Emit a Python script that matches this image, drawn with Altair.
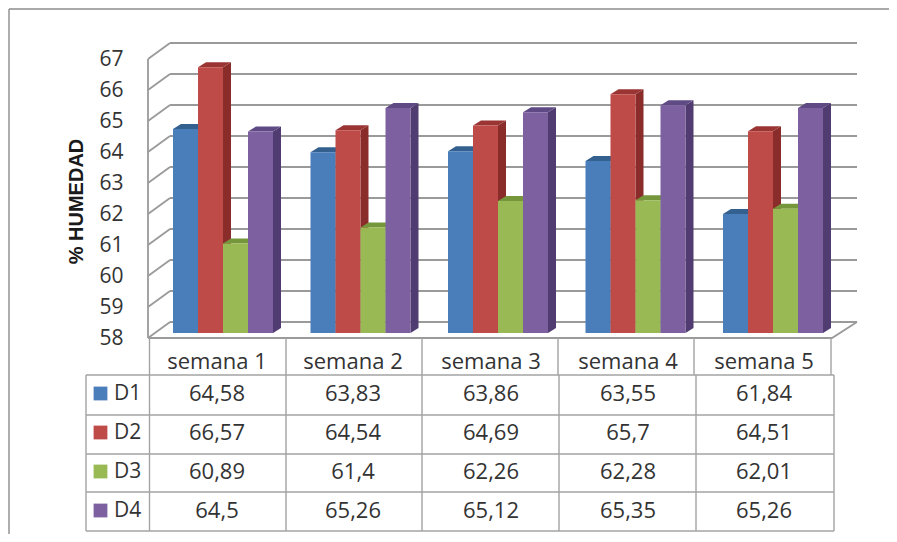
import altair as alt
import pandas as pd

# --- chart values ---
weeks = ["semana 1", "semana 2", "semana 3", "semana 4", "semana 5"]
series = ["D1", "D2", "D3", "D4"]
d1 = [64.58, 63.83, 63.86, 63.55, 61.84]
d2 = [66.57, 64.54, 64.69, 65.7, 64.51]
d3 = [60.89, 61.4, 62.26, 62.28, 62.01]
d4 = [64.5, 65.26, 65.12, 65.35, 65.26]
values = [d1, d2, d3, d4]
ticks = [58, 59, 60, 61, 62, 63, 64, 65, 66, 67]

front = ["#4a7ebb", "#be4b48", "#98b954", "#7d60a0"]
side = ["#2f5687", "#8a2c2a", "#6c8a35", "#503c70"]
top = ["#33608f", "#9a3533", "#76963c", "#5f4a85"]

# --- layout (page pixels) ---
W, H = 881, 526
PX_PER_UNIT = 31.0
FLOOR_Y = 338.0
BAR_Y = 333.0
BACK_Y = 322.0
LEFT, RIGHT, BACK_L, BACK_R = 148, 832, 170, 857
BAR_X0, GROUP_STEP, BAR_W = 173.0, 137.5, 25.0
BAR_DX, BAR_DY = 8.0, 5.0
GRID = "#9a9a9a"
TXT = "#333333"
FONT = "Open Sans"

header_edges = [149.5, 286, 422, 558, 694, 831]
row_edges = [86, 149.5, 286, 422, 559, 696, 834]
row_lines = [375, 415, 454, 492, 531]
row_centers = [394, 433, 472, 511]
col_centers = [217, 353, 491, 628, 764]
HEADER_TOP, HEADER_BOTTOM, HEADER_MID = 338, 375, 362

xs = alt.Scale(domain=[8, 8 + W], range=[0, W], nice=False, zero=False)
vs = alt.Scale(domain=[58 - (8 + H - FLOOR_Y) / PX_PER_UNIT, 58 + (FLOOR_Y - 8) / PX_PER_UNIT],
               nice=False, zero=False)
ps = alt.Scale(domain=[8 + H, 8], nice=False, zero=False)


def X(f="x"):
    return alt.X(f"{f}:Q", scale=xs, axis=None)


def Vv(f="v"):
    return alt.Y(f"{f}:Q", scale=vs, axis=None)


def Py(f="y"):
    return alt.Y(f"{f}:Q", scale=ps, axis=None)


def off(px):
    """Vertical shift, in value units, of a plane behind the front floor edge."""
    return px / PX_PER_UNIT


# --- walls and floor ---
walls = []
for t in ticks:
    walls += [{"k": f"back{t}", "x": BACK_L, "v": t + off(FLOOR_Y - BACK_Y)},
              {"k": f"back{t}", "x": BACK_R, "v": t + off(FLOOR_Y - BACK_Y)},
              {"k": f"left{t}", "x": LEFT, "v": t},
              {"k": f"left{t}", "x": BACK_L, "v": t + off(FLOOR_Y - BACK_Y)}]
walls += [{"k": "floor", "x": LEFT, "v": 58}, {"k": "floor", "x": RIGHT, "v": 58},
          {"k": "floor", "x": BACK_R, "v": 58 + off(FLOOR_Y - BACK_Y)},
          {"k": "edge", "x": LEFT, "v": 58}, {"k": "edge", "x": LEFT, "v": 67}]
walls_layer = alt.Chart(pd.DataFrame(walls)).mark_line(color=GRID, strokeWidth=1.8).encode(
    x=X(),
    y=alt.Y("v:Q", scale=vs, axis=alt.Axis(
        values=ticks, format="d", domain=False, ticks=False, grid=False,
        offset=8 - LEFT, labelPadding=25, labelFont=FONT, labelFontSize=21, labelColor=TXT,
        title="% HUMEDAD", titleFont="Liberation Sans", titleFontSize=20, titleFontWeight="bold",
        titleColor="#1a1a1a", titleX=76 - LEFT, titleY=201 - 8, titleAngle=270,
        titleAlign="center", titleBaseline="middle")),
    detail="k:N",
)

# --- bars: front, side and top faces ---
fronts, sides, tops = [], [], []
for si, s in enumerate(series):
    for wi, w in enumerate(weeks):
        v = values[si][wi]
        x0 = BAR_X0 + wi * GROUP_STEP + si * BAR_W
        x1 = x0 + BAR_W
        base = 58 + off(FLOOR_Y - BAR_Y)
        top_v = v + off(FLOOR_Y - BAR_Y)
        key = f"{s}{w}"
        d = off(BAR_DY)
        fronts.append({"x": x0, "x2": x1, "v": top_v, "v2": base, "c": front[si]})
        sides += [{"k": key, "x": x1, "v": base, "v2": top_v, "c": side[si]},
                  {"k": key, "x": x1 + BAR_DX, "v": base + d, "v2": top_v + d, "c": side[si]}]
        tops += [{"k": key, "x": x0, "v": top_v, "v2": top_v, "c": top[si]},
                 {"k": key, "x": x0 + BAR_DX, "v": top_v, "v2": top_v + d, "c": top[si]},
                 {"k": key, "x": x1, "v": top_v, "v2": top_v + d, "c": top[si]},
                 {"k": key, "x": x1 + BAR_DX, "v": top_v + d, "v2": top_v + d, "c": top[si]}]

side_layer = alt.Chart(pd.DataFrame(sides)).mark_area(orient="vertical").encode(
    x=X(), y=Vv(), y2="v2:Q", detail="k:N", color=alt.Color("c:N", scale=None))
top_layer = alt.Chart(pd.DataFrame(tops)).mark_area(orient="vertical").encode(
    x=X(), y=Vv(), y2="v2:Q", detail="k:N", color=alt.Color("c:N", scale=None))
front_layer = alt.Chart(pd.DataFrame(fronts)).mark_rect().encode(
    x=X(), x2="x2:Q", y=Vv(), y2="v2:Q", color=alt.Color("c:N", scale=None))

# --- table and frame ---
segs = []
for i, e in enumerate(header_edges):
    segs += [{"k": f"h{i}", "x": e, "y": HEADER_TOP}, {"k": f"h{i}", "x": e, "y": HEADER_BOTTOM}]
for i, e in enumerate(row_edges):
    segs += [{"k": f"r{i}", "x": e, "y": row_lines[0]}, {"k": f"r{i}", "x": e, "y": row_lines[-1]}]
for i, y in enumerate(row_lines):
    segs += [{"k": f"l{i}", "x": row_edges[0], "y": y}, {"k": f"l{i}", "x": row_edges[-1], "y": y}]
table_lines = alt.Chart(pd.DataFrame(segs)).mark_line(color="#a3a3a3", strokeWidth=1.4).encode(
    x=X(), y=Py(), detail="k:N")

frame = pd.DataFrame([{"k": "a", "x": 9, "y": 8 + H}, {"k": "a", "x": 9, "y": 9},
                      {"k": "b", "x": 9, "y": 9}, {"k": "b", "x": 8 + W, "y": 9}])
frame_layer = alt.Chart(frame).mark_line(color="#8c8c8c", strokeWidth=1.4).encode(
    x=X(), y=Py(), detail="k:N")

cells = []
for wi, w in enumerate(weeks):
    cells.append({"x": col_centers[wi], "y": HEADER_MID, "t": w})
    for si in range(len(series)):
        cells.append({"x": col_centers[wi], "y": row_centers[si], "t": str(values[si][wi]).replace(".", ",")})
cell_layer = alt.Chart(pd.DataFrame(cells)).mark_text(
    font=FONT, fontSize=22, color=TXT, align="center", baseline="middle"
).encode(x=X(), y=Py(), text="t:N")

keys = pd.DataFrame([{"x": 100.5, "xl": 114, "y": row_centers[i] - 0.5, "t": s, "c": front[i]}
                     for i, s in enumerate(series)])
key_layer = alt.Chart(keys).mark_square(size=190, opacity=1).encode(
    x=X(), y=Py(), color=alt.Color("c:N", scale=None))
key_text = alt.Chart(keys).mark_text(
    font=FONT, fontSize=21, color=TXT, align="left", baseline="middle"
).encode(x=X("xl"), y=Py(), text="t:N")

chart = alt.layer(
    frame_layer, walls_layer, side_layer, top_layer, front_layer,
    table_lines, cell_layer, key_layer, key_text,
).resolve_scale(y="independent").properties(
    width=W, height=H, padding=0, background="white",
    autosize=alt.AutoSizeParams(type="none"),
).configure_view(stroke=None)

chart.save("out.html", embed_options={"renderer": "svg", "actions": False})
